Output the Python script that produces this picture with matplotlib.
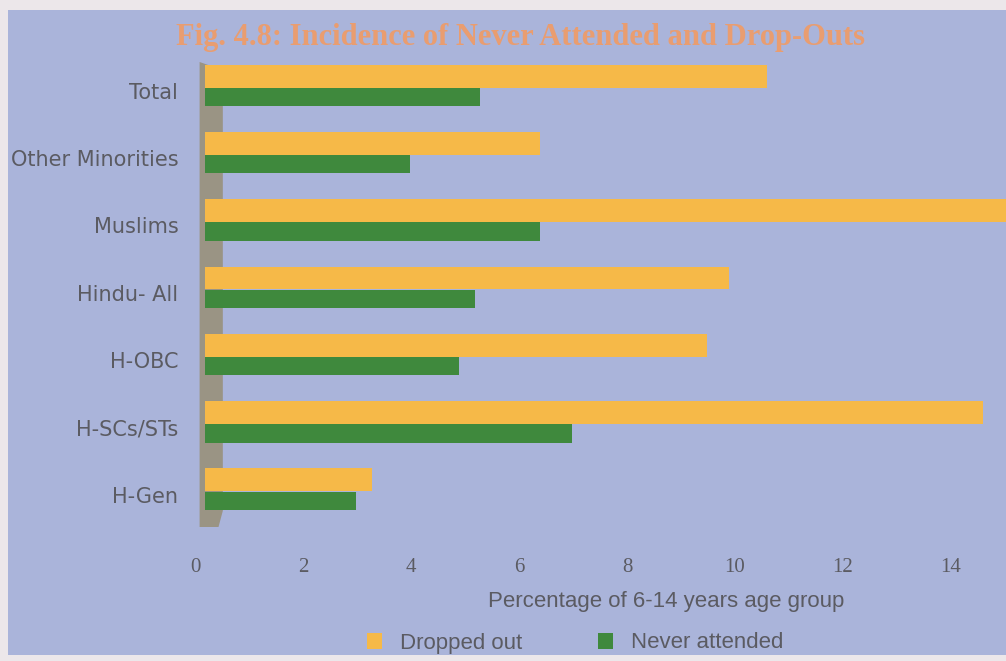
import matplotlib
matplotlib.use("Agg")
import matplotlib.pyplot as plt
import matplotlib.transforms as mtransforms
from matplotlib.patches import Patch, Polygon, Rectangle

groups = ["H-Gen", "H-SCs/STs", "H-OBC", "Hindu- All", "Muslims",
          "Other Minorities", "Total"]
dropped_out = [3.1, 14.4, 9.3, 9.7, 15.2, 6.2, 10.4]
never_attended = [2.8, 6.8, 4.7, 5.0, 6.2, 3.8, 5.1]
xticks = [0, 2, 4, 6, 8, 10, 12, 14]

page = "#ece7ea"
panel = "#aab4da"
orange = "#f6b948"
green = "#3f893d"
wall = "#9a9484"
text_grey = "#5b5b62"

fig = plt.figure(figsize=(10.06, 6.61), dpi=100)
fig.patch.set_facecolor(page)
fig.patches.append(Rectangle((8 / 1006, 6 / 661), 1 - 8 / 1006, 1 - 16 / 661,
                             transform=fig.transFigure, facecolor=panel,
                             edgecolor="none", zorder=-5))

ax = fig.add_axes([195 / 1006, 1 - 527 / 661, 1 - 195 / 1006, (527 - 62) / 661])
ax.set_facecolor("none")
ax.set_xlim(-10 / 54, 801 / 54)
ax.set_ylim(-0.54, 6.37)

# grey back wall of the 3d-style chart
ax.add_patch(Polygon([(-0.1, 6.37), (0.33, 6.25), (0.33, -0.3), (0.25, -0.54),
                      (-0.1, -0.54)], closed=True, facecolor=wall,
                     edgecolor="none", zorder=1))

pos = list(range(len(groups)))
ax.barh([p + 0.16 for p in pos], dropped_out, height=0.34, color=orange, zorder=3)
ax.barh([p - 0.15 for p in pos], never_attended, height=0.27, color=green, zorder=3)

for s in ax.spines.values():
    s.set_visible(False)

ax.set_yticks(pos)
ax.set_yticklabels(groups, fontsize=15, color=text_grey,
                   family=["DejaVu Sans"])
ax.tick_params(axis="y", length=0, pad=12)
down = mtransforms.ScaledTranslation(0, -4 / 100, fig.dpi_scale_trans)
for lbl in ax.get_yticklabels():
    lbl.set_transform(lbl.get_transform() + down)

ax.set_xticks(xticks)
ax.set_xticklabels([str(t) for t in xticks], fontsize=15, color=text_grey,
                   family=["Liberation Serif", "DejaVu Serif"])
ax.tick_params(axis="x", length=0, pad=22)
shift = mtransforms.ScaledTranslation(-10 / 100, 0, fig.dpi_scale_trans)
for lbl in ax.get_xticklabels():
    lbl.set_transform(lbl.get_transform() + shift)

fig.text(666 / 1006, 1 - 601 / 661, "Percentage of 6-14 years age group",
         ha="center", va="center", fontsize=16, color=text_grey,
         family=["Liberation Sans", "DejaVu Sans"])

fig.text(520 / 1006, 1 - 37 / 661,
         "Fig. 4.8: Incidence of Never Attended and Drop-Outs",
         ha="center", va="center", fontsize=22, fontweight="bold", color="#e99d70",
         family=["Liberation Serif", "DejaVu Serif"])

handles = [Patch(facecolor=orange, edgecolor="none", label="Dropped out"),
           Patch(facecolor=green, edgecolor="none", label="Never attended")]
fig.legend(handles=handles, loc="center", bbox_to_anchor=(575 / 1006, 1 - 643 / 661),
           ncol=2, frameon=False, handlelength=0.7, handleheight=0.7,
           columnspacing=3.4, handletextpad=0.8,
           prop={"size": 16, "family": ["Liberation Sans", "DejaVu Sans"]},
           labelcolor=text_grey)

fig.savefig("out.png", dpi=100, facecolor=page)
